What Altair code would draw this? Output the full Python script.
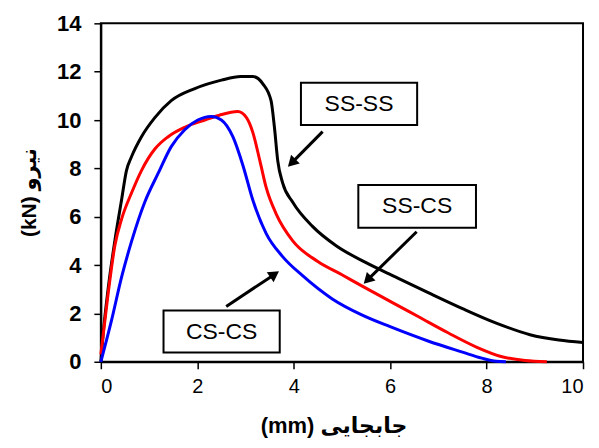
import altair as alt
import pandas as pd

# ---- data ----
ss_ss_x = [0, 0.05, 0.15, 0.29, 0.43, 0.53, 0.64, 0.84, 1.12, 1.46, 1.95, 2.5, 2.9, 3.15, 3.36, 3.53, 3.6, 3.67, 3.77, 3.98, 4.39, 4.88, 5.5, 6.12, 6.8, 7.5, 8.2, 8.9, 9.5, 10]
ss_ss_y = [0, 1.2, 3.0, 5.0, 6.7, 7.9, 8.5, 9.3, 10.1, 10.8, 11.3, 11.65, 11.8, 11.8, 11.5, 10.8, 9.7, 8.3, 7.4, 6.6, 5.6, 4.8, 4.1, 3.5, 2.85, 2.2, 1.6, 1.12, 0.9, 0.8]

ss_cs_x = [0, 0.15, 0.29, 0.43, 0.64, 0.84, 1.12, 1.39, 1.74, 2.16, 2.46, 2.84, 3.02, 3.15, 3.3, 3.43, 3.64, 3.98, 4.5, 5.0, 5.43, 6.0, 6.6, 7.2, 7.8, 8.3, 8.8, 9.25]
ss_cs_y = [0.3, 2.8, 4.8, 5.9, 7.0, 7.9, 8.8, 9.3, 9.7, 10.0, 10.2, 10.35, 10.1, 9.5, 8.3, 7.2, 6.1, 5.0, 4.15, 3.6, 3.12, 2.5, 1.85, 1.2, 0.6, 0.22, 0.05, 0]

cs_cs_x = [0, 0.22, 0.43, 0.64, 0.91, 1.19, 1.46, 1.74, 2.01, 2.29, 2.5, 2.74, 2.95, 3.15, 3.43, 3.77, 4.19, 4.8, 5.4, 6.0, 6.8, 7.5, 7.9, 8.2, 8.4]
cs_cs_y = [0, 1.7, 3.5, 5.0, 6.6, 7.8, 8.9, 9.6, 10.0, 10.15, 10.0, 9.3, 8.1, 6.7, 5.3, 4.35, 3.55, 2.6, 1.95, 1.45, 0.85, 0.4, 0.15, 0.02, 0]

series_names = ["SS-SS", "SS-CS", "CS-CS"]
series_colors = ["#000000", "#ff0000", "#0000ff"]

x_ticks = [0, 2, 4, 6, 8, 10]
y_ticks = [0, 2, 4, 6, 8, 10, 12, 14]

# annotation boxes (label, x1, x2, y1, y2)
box_labels = ["SS-SS", "SS-CS", "CS-CS"]
box_x1 = [4.15, 5.34, 1.30]
box_x2 = [6.56, 7.78, 3.71]
box_y1 = [9.79, 5.54, 0.38]
box_y2 = [11.54, 7.31, 2.12]

# arrows (start -> tip), head angle in degrees
arrow_x_start = [4.60, 6.55, 2.60]
arrow_y_start = [9.52, 5.38, 2.29]
arrow_x_tip = [3.87, 5.39, 3.74]
arrow_y_tip = [8.05, 3.11, 3.80]
arrow_angle = [225, 225, 56]

# ---- build tables ----
rows = []
for name, xs, ys in zip(series_names, [ss_ss_x, ss_cs_x, cs_cs_x], [ss_ss_y, ss_cs_y, cs_cs_y]):
    for i, (xv, yv) in enumerate(zip(xs, ys)):
        rows.append({"series": name, "x": xv, "y": yv, "idx": i})
df = pd.DataFrame(rows)

boxes = pd.DataFrame({
    "label": box_labels, "x1": box_x1, "x2": box_x2, "y1": box_y1, "y2": box_y2,
})
boxes["xc"] = (boxes["x1"] + boxes["x2"]) / 2
boxes["yc"] = (boxes["y1"] + boxes["y2"]) / 2

arrows = pd.DataFrame({
    "xs": arrow_x_start, "ys": arrow_y_start,
    "xt": arrow_x_tip, "yt": arrow_y_tip, "ang": arrow_angle,
})
arrows["xh"] = arrows["xt"] + (arrows["xs"] - arrows["xt"]) * 0.12
arrows["yh"] = arrows["yt"] + (arrows["ys"] - arrows["yt"]) * 0.12
arrows["xe"] = arrows["xt"] + (arrows["xs"] - arrows["xt"]) * 0.15
arrows["ye"] = arrows["yt"] + (arrows["ys"] - arrows["yt"]) * 0.15

FONT = "Liberation Sans, Arial, DejaVu Sans"

xscale = alt.Scale(domain=[0, 10], nice=False, zero=False)
yscale = alt.Scale(domain=[0, 14], nice=False, zero=False)

x_axis = alt.Axis(
    values=x_ticks, title="(mm) جابجایی", grid=False,
    labelFontSize=20, labelFont=FONT, labelColor="black", labelPadding=8,
    tickSize=7, tickColor="black", tickWidth=1.5,
    domainColor="black", domainWidth=2,
    titleFontSize=22, titleFont=FONT, titleFontWeight="bold", titleColor="black",
    titleX=233, titleY=64, titleAlign="center", titleBaseline="middle",
)
y_axis = alt.Axis(
    values=y_ticks, title="(kN) نیرو", grid=False,
    labelFontSize=22, labelFont=FONT, labelFontWeight="bold", labelColor="black", labelPadding=13,
    tickSize=7, tickColor="black", tickWidth=1.5,
    domainColor="black", domainWidth=2,
    titleFontSize=21, titleFont=FONT, titleFontWeight="bold", titleColor="black",
    titleAngle=270, titleX=-71, titleY=169, titleAlign="center", titleBaseline="middle",
)

lines = alt.Chart(df).mark_line(strokeWidth=3, interpolate="monotone").encode(
    x=alt.X("x:Q", scale=xscale, axis=x_axis),
    y=alt.Y("y:Q", scale=yscale, axis=y_axis),
    color=alt.Color("series:N", scale=alt.Scale(domain=series_names, range=series_colors), legend=None),
    detail="series:N",
    order="idx:Q",
)

rects = alt.Chart(boxes).mark_rect(fill="white", stroke="black", strokeWidth=2).encode(
    x=alt.X("x1:Q", scale=xscale), x2="x2:Q",
    y=alt.Y("y1:Q", scale=yscale), y2="y2:Q",
)

texts = alt.Chart(boxes).mark_text(fontSize=23, font=FONT, color="black", baseline="middle", align="center").encode(
    x=alt.X("xc:Q", scale=xscale), y=alt.Y("yc:Q", scale=yscale), text="label:N",
)

shafts = alt.Chart(arrows).mark_rule(strokeWidth=3, color="black").encode(
    x=alt.X("xs:Q", scale=xscale), y=alt.Y("ys:Q", scale=yscale), x2="xe:Q", y2="ye:Q",
)

heads = alt.Chart(arrows).mark_point(shape="triangle-up", filled=True, size=150, color="black", opacity=1).encode(
    x=alt.X("xh:Q", scale=xscale), y=alt.Y("yh:Q", scale=yscale),
    angle=alt.Angle("ang:Q", scale=None),
)

chart = alt.layer(lines, rects, texts, shafts, heads).properties(
    width=483, height=339,
    autosize=alt.AutoSizeParams(type="none"),
    padding={"left": 93, "top": 15, "right": 8, "bottom": 78},
    background="white",
).configure_view(stroke="black", strokeWidth=2)

chart.save("out.html", embed_options={"renderer": "svg", "actions": False})
